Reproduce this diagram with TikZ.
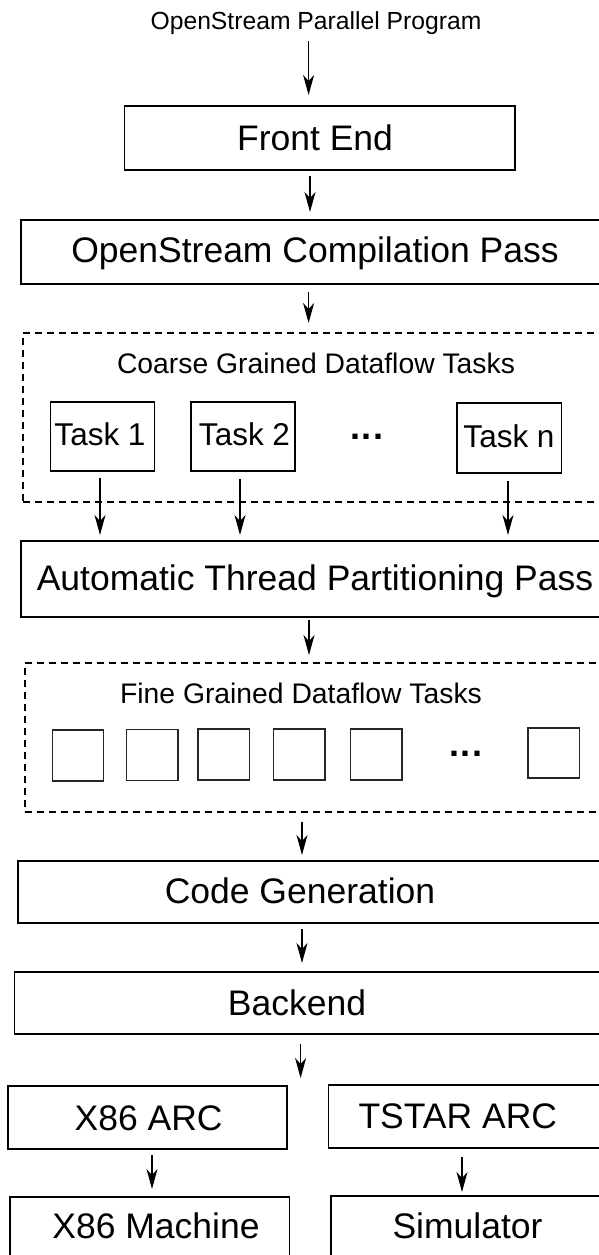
\documentclass[tikz,border=0pt]{standalone}
\usepackage{fontspec}
\setmainfont{Liberation Sans}
\usetikzlibrary{arrows.meta}
\begin{document}
\begin{tikzpicture}[x=1pt,y=-1pt,
  box/.style={draw, line width=1.8pt, anchor=north west, inner sep=0pt, outer sep=0pt},
  dbox/.style={draw, line width=1.5pt, dash pattern=on 7pt off 5pt, anchor=north west, inner sep=0pt, outer sep=0pt},
  sqbox/.style={draw, line width=1.3pt, black!85, anchor=north west, inner sep=0pt, outer sep=0pt, minimum width=51.5pt},
  lbl/.style={anchor=base, inner sep=0pt, font=\fontsize{35.5}{40}\selectfont},
  tlbl/.style={anchor=base, inner sep=0pt, font=\fontsize{31.5}{36}\selectfont},
  slbl/.style={anchor=base, inner sep=0pt, font=\fontsize{28.3}{33}\selectfont},
  arr/.style={-{Stealth[length=20pt,width=11pt,inset=6pt]}, line width=1.3pt}]
\useasboundingbox (0,0) rectangle (599,1255);
\clip (0,0) rectangle (599,1255);
% column coordinates
\coordinate (c1) at (308.6,0);
\coordinate (c2) at (310,0);
\coordinate (c4) at (309,0);
\coordinate (c5) at (302,0);
\coordinate (ct1) at (100,0);
\coordinate (ct2) at (240,0);
\coordinate (ctn) at (508,0);
\coordinate (c7) at (300.6,0);
\coordinate (c8) at (152,0);
\coordinate (c9) at (462,0);
% title
\node[anchor=base, inner sep=0pt, font=\fontsize{24.7}{30}\selectfont] (title) at (316,30) {OpenStream Parallel Program};
% boxes
\node[box, line width=1.5pt, minimum width=390.5pt, minimum height=64pt] (fe) at (124.5,106) {};
\node[lbl] (tfe) at (315,150) {Front End};
\node[box, minimum width=599pt, minimum height=64pt] (cp) at (21,220) {};
\node[lbl] (tcp) at (315,262) {OpenStream Compilation Pass};
% coarse dashed region
\node[dbox, minimum width=597pt, minimum height=169pt] (d1) at (23,333) {};
\node[slbl] (td1) at (316,373) {Coarse Grained Dataflow Tasks};
\node[box, minimum width=104pt, minimum height=69pt] (t1) at (50.5,402) {};
\node[tlbl] (tt1) at (100,445) {Task 1};
\node[box, minimum width=104pt, minimum height=69pt] (t2) at (191,402) {};
\node[tlbl] (tt2) at (244.5,445) {Task 2};
\node[anchor=base, inner sep=0pt, font=\fontsize{36}{40}\selectfont\bfseries] (dots1) at (367,439) {.\hspace{1.5pt}.\hspace{1.5pt}.};
\node[box, minimum width=104.5pt, minimum height=70pt] (tn) at (457,403) {};
\node[tlbl] (ttn) at (509,447) {Task n};
\node[box, minimum width=599pt, minimum height=76pt] (atp) at (21,541) {};
\node[lbl] (tatp) at (315,590) {Automatic Thread Partitioning Pass};
% fine dashed region
\node[dbox, minimum width=595pt, minimum height=149pt] (d2) at (25,663) {};
\node[slbl] (td2) at (301,703) {Fine Grained Dataflow Tasks};
\node[sqbox, minimum height=51pt] (s1) at (52.3,730) {};
\node[sqbox, minimum height=51pt] (s2) at (126.4,729.5) {};
\node[sqbox, minimum height=51pt] (s3) at (198,729) {};
\node[sqbox, minimum height=51pt] (s4) at (273.5,729) {};
\node[sqbox, minimum height=51pt] (s5) at (350.6,729) {};
\node[anchor=base, inner sep=0pt, font=\fontsize{36}{40}\selectfont\bfseries] (dots2) at (466,756) {.\hspace{1.5pt}.\hspace{1.5pt}.};
\node[sqbox, minimum height=50pt] (s6) at (528,728) {};
% lower boxes
\node[box, minimum width=602pt, minimum height=62pt] (cg) at (18,861) {};
\node[lbl] (tcg) at (300,903) {Code Generation};
\node[box, minimum width=606pt, minimum height=62pt] (be) at (14.5,972) {};
\node[lbl] (tbe) at (297,1015) {Backend};
\node[box, minimum width=279.4pt, minimum height=63pt] (x86) at (7.6,1086) {};
\node[lbl] (tx86) at (148.6,1130) {X86 ARC};
\node[box, minimum width=292pt, minimum height=63pt] (ts) at (328.5,1085) {};
\node[lbl] (tts) at (457.8,1128) {TSTAR ARC};
\node[box, minimum width=279.2pt, minimum height=80pt] (xm) at (10.3,1197) {};
\node[lbl] (txm) at (156,1238) {X86 Machine};
\node[box, minimum width=290pt, minimum height=80pt] (sim) at (330.8,1196) {};
\node[lbl] (tsim) at (467.5,1238) {Simulator};
\coordinate (a7e) at (300.6,1078);
% arrows
\draw[arr, shorten <=6pt, shorten >=11pt] (title.south -| c1) -- (fe.north -| c1);
\draw[arr, shorten <=6pt, shorten >=8pt] (fe.south -| c2) -- (cp.north -| c2);
\draw[arr, shorten <=8pt, shorten >=10pt] (cp.south -| c1) -- (d1.north -| c1);
\draw[arr, shorten <=7pt, shorten >=6pt] (t1.south -| ct1) -- (atp.north -| ct1);
\draw[arr, shorten <=8pt, shorten >=6pt] (t2.south -| ct2) -- (atp.north -| ct2);
\draw[arr, shorten <=8pt, shorten >=6pt] (tn.south -| ctn) -- (atp.north -| ctn);
\draw[arr, shorten <=3pt, shorten >=8pt] (atp.south -| c4) -- (d2.north -| c4);
\draw[arr, shorten <=10pt, shorten >=6pt] (d2.south -| c5) -- (cg.north -| c5);
\draw[arr, shorten <=6pt, shorten >=9pt] (cg.south -| c5) -- (be.north -| c5);
\draw[arr, shorten <=10pt] (be.south -| c7) -- (a7e);
\draw[arr, shorten <=6pt, shorten >=8pt] (x86.south -| c8) -- (xm.north -| c8);
\draw[arr, shorten <=9pt, shorten >=4pt] (ts.south -| c9) -- (sim.north -| c9);
\end{tikzpicture}
\end{document}
